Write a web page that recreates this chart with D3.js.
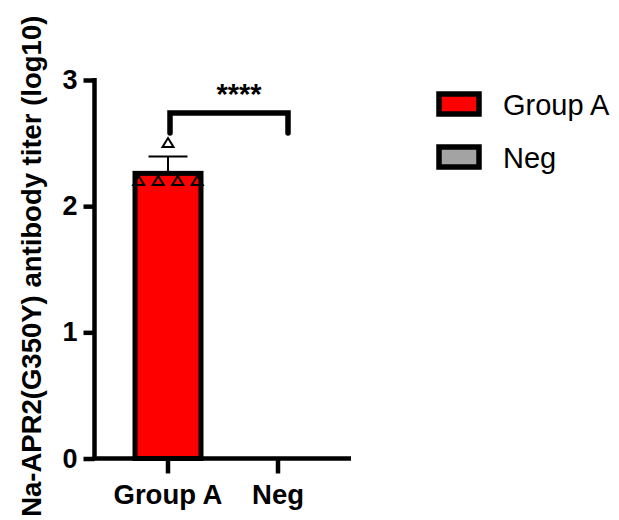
<!DOCTYPE html>
<html>
<head>
<meta charset="utf-8">
<script src="https://cdn.jsdelivr.net/npm/d3@7"></script>
<style>
  html, body { margin: 0; padding: 0; background: #fff; }
  svg { display: block; font-family: "Liberation Sans", Arial, sans-serif; }
</style>
</head>
<body>
<svg id="chart" width="619" height="520"></svg>
<script>
// ---- data ----
const categories = ["Group A", "Neg"];
const groupAValues = [2.50, 2.20, 2.20, 2.20, 2.20];
const negValues = [];
const barColors = ["#ff0000", "#a3a3a3"];
const yTicks = [0, 1, 2, 3];
const yLabel = "Na-APR2(G350Y) antibody titer (log10)";
const sigLabel = "****";

const groups = [
  { name: categories[0], values: groupAValues, color: barColors[0] },
  { name: categories[1], values: negValues, color: barColors[1] }
];

const svg = d3.select("#chart");
const FONT = "'Liberation Sans', Arial, sans-serif";

// scales
const y = d3.scaleLinear().domain([0, 3]).range([458.5, 80]);
const x = d3.scaleBand().domain(categories).range([113, 333]).padding(0);
const xc = d => x(d) + x.bandwidth() / 2;
const barW = x.bandwidth() * 0.6;

// bars
groups.forEach(g => {
  if (!g.values.length) return;
  const m = d3.mean(g.values);
  const sd = d3.deviation(g.values);
  const cx = xc(g.name);
  svg.append("rect")
    .attr("x", cx - barW / 2)
    .attr("y", y(m))
    .attr("width", barW)
    .attr("height", y(0) - y(m))
    .attr("fill", g.color)
    .attr("stroke", "#000")
    .attr("stroke-width", 5);
  // error bar (SD)
  svg.append("line")
    .attr("x1", cx).attr("x2", cx)
    .attr("y1", y(m + sd)).attr("y2", y(m) - 2)
    .attr("stroke", "#000").attr("stroke-width", 2);
  svg.append("line")
    .attr("x1", cx - 19.5).attr("x2", cx + 19.5)
    .attr("y1", y(m + sd)).attr("y2", y(m + sd))
    .attr("stroke", "#000").attr("stroke-width", 2);

  // points: open triangles, spread horizontally among equal values
  const byVal = d3.group(g.values, v => v);
  const sp = 19.5;
  byVal.forEach((arr, v) => {
    const n = arr.length;
    arr.forEach((_, i) => {
      const px = cx + (i - (n - 1) / 2) * sp;
      const py = y(v);
      svg.append("path")
        .attr("d", `M${px},${py - 5} L${px + 5.5},${py + 4} L${px - 5.5},${py + 4} Z`)
        .attr("fill", "none")
        .attr("stroke", "#000")
        .attr("stroke-width", 2)
        .attr("stroke-linejoin", "miter");
    });
  });
});

// y axis
const yAxis = d3.axisLeft(y).tickValues(yTicks).tickFormat(d3.format("d")).tickSize(11).tickPadding(6);
const gy = svg.append("g").attr("transform", "translate(94.5,0)").call(yAxis);
gy.select(".domain").attr("stroke-width", 4.5).attr("d", `M0,${y(3) - 2}V${y(0)}`);
gy.selectAll(".tick line").attr("stroke-width", 4.5);
gy.selectAll(".tick text").attr("font-size", 27).attr("font-weight", "bold").attr("fill", "#000")
  .attr("font-family", FONT);

// x axis
const xAxis = d3.axisBottom(x).tickSize(15).tickPadding(11);
const gx = svg.append("g").attr("transform", `translate(0,${y(0)})`).call(xAxis);
gx.select(".domain").attr("d", "M92.5,0H351").attr("stroke-width", 4.5);
gx.selectAll(".tick line").attr("stroke-width", 4.5);
gx.selectAll(".tick text").attr("font-size", 27.5).attr("font-weight", "bold").attr("fill", "#000")
  .attr("dy", "0.71em")
  .attr("font-family", FONT);

// y label
svg.append("text")
  .attr("transform", `translate(41,${(y(0) + y(3)) / 2 - 3}) rotate(-90)`)
  .attr("text-anchor", "middle")
  .attr("font-size", 27.5)
  .attr("font-weight", "bold")
  .attr("fill", "#000")
  .text(yLabel);

// significance bracket
const bx1 = xc(categories[0]) + 2, bx2 = xc(categories[1]) + 10;
const by = 113, bLeg = 133;
svg.append("path")
  .attr("d", `M${bx1},${bLeg}V${by}H${bx2}V${bLeg}`)
  .attr("fill", "none").attr("stroke", "#000").attr("stroke-width", 5.5)
  .attr("stroke-linejoin", "miter").attr("stroke-linecap", "round");
svg.append("text")
  .attr("x", (bx1 + bx2) / 2 + 10)
  .attr("y", 104)
  .attr("text-anchor", "middle")
  .attr("font-size", 29)
  .attr("font-weight", "bold")
  .attr("fill", "#000")
  .text(sigLabel);

// legend
const lg = svg.append("g");
groups.forEach((g, i) => {
  const ly = 94 + i * 53;
  lg.append("rect")
    .attr("x", 439).attr("y", ly)
    .attr("width", 40).attr("height", 20)
    .attr("fill", g.color).attr("stroke", "#000").attr("stroke-width", 5.5);
  lg.append("text")
    .attr("x", 503).attr("y", ly + 21)
    .attr("font-size", 29)
    .attr("fill", "#000")
    .text(g.name);
});
</script>
</body>
</html>
